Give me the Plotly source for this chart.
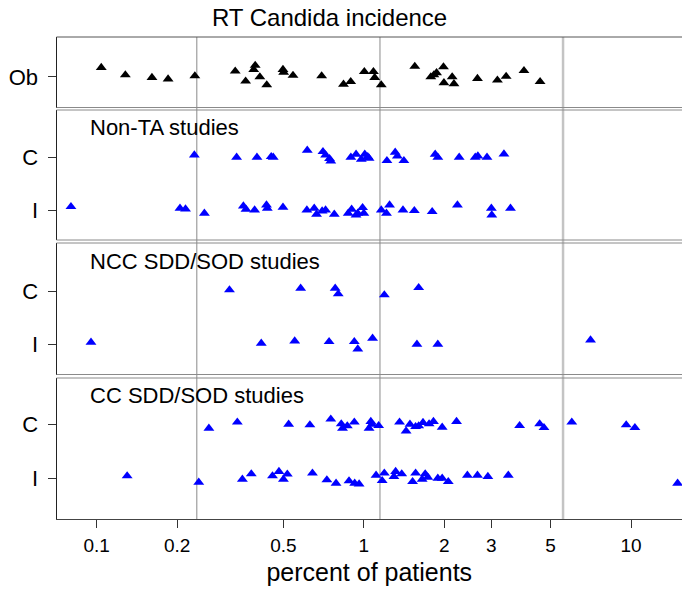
import plotly.graph_objects as go

# ---------------- data (percent of patients) ----------------
rows = ["C", "I"]
panel_titles = ["Non-TA studies", "NCC SDD/SOD studies", "CC SDD/SOD studies"]
tick_vals = [0.1, 0.2, 0.5, 1, 2, 3, 5, 10]
tick_text = ["0.1", "0.2", "0.5", "1", "2", "3", "5", "10"]
ref_lines = [0.237, 1.149, 5.567]

ob_vals = [0.104, 0.128, 0.161, 0.185, 0.233, 0.330, 0.361, 0.387, 0.392, 0.408, 0.433, 0.498,
           0.501, 0.543, 0.695, 0.839, 0.893, 1.004, 1.086, 1.098, 1.162, 1.551, 1.781, 1.829,
           1.871, 1.986, 1.994, 2.141, 2.174, 2.662, 3.162, 3.409, 3.975, 4.567]
ob_jit = [0.18, 0.04, -0.01, -0.04, 0.02, 0.11, -0.08, 0.14, 0.22, 0.0, -0.15, 0.14, 0.09, 0.03,
          0.02, -0.14, -0.09, 0.10, 0.10, -0.01, -0.15, 0.20, 0.0, 0.04, 0.08, 0.19, -0.11, 0.0,
          -0.13, -0.03, -0.06, 0.01, 0.12, -0.09]

nonta_c = [0.232, 0.334, 0.398, 0.450, 0.458, 0.614, 0.703, 0.719, 0.744, 0.752, 0.894, 0.935,
           0.978, 1.008, 1.034, 1.046, 1.220, 1.310, 1.335, 1.412, 1.849, 1.892, 2.274, 2.612,
           2.672, 2.890, 3.345]
nonta_c_jit = [0.044, 0, 0, 0.013, 0, 0.133, 0.108, 0.044, -0.025, -0.07, 0, 0.057, -0.038, 0.057,
               0.013, -0.019, -0.063, 0.095, 0.025, -0.063, 0.057, 0, 0, 0, 0.025, 0, 0.063]
nonta_i = [0.0801, 0.205, 0.215, 0.253, 0.354, 0.362, 0.390, 0.432, 0.435, 0.498, 0.612, 0.652,
           0.665, 0.698, 0.719, 0.775, 0.874, 0.900, 0.935, 0.949, 0.989, 1.000, 1.162, 1.215,
           1.248, 1.401, 1.545, 1.802, 2.240, 3.001, 3.012, 3.539]
nonta_i_jit = [0.063, 0.032, 0.019, -0.063, 0.076, 0.013, 0, 0.095, 0.032, 0.051, 0, 0.032, -0.082,
               -0.019, 0, -0.082, -0.063, 0.013, -0.095, -0.063, 0.044, -0.063, 0, -0.063, 0.095,
               0, -0.013, -0.032, 0.095, 0.032, -0.095, 0.032]

ncc_c = [0.314, 0.580, 0.781, 0.802, 1.193, 1.604]
ncc_c_jit = [0.032, 0.063, 0.063, -0.044, -0.063, 0.076]
ncc_i = [0.0952, 0.413, 0.551, 0.741, 0.921, 0.949, 1.078, 1.580, 1.892, 7.055]
ncc_i_jit = [0.038, 0.019, 0.063, 0.051, 0.051, -0.089, 0.114, 0, 0, 0.082]

cc_c = [0.263, 0.336, 0.523, 0.628, 0.752, 0.823, 0.832, 0.867, 0.921, 1.046, 1.062, 1.074,
        1.136, 1.360, 1.439, 1.488, 1.562, 1.604, 1.665, 1.755, 1.822, 1.964, 2.223, 3.829,
        4.550, 4.724, 6.003, 9.596, 10.34]
cc_c_jit = [-0.075, 0.038, 0, -0.013, 0.094, 0.006, -0.075, -0.031, 0.038, -0.075, 0.05, 0,
            -0.025, 0.038, -0.125, 0, -0.044, -0.031, 0.031, 0.006, 0.05, -0.056, 0.05, -0.025,
            0.006, -0.063, 0.038, -0.013, -0.063]
cc_i = [0.130, 0.241, 0.351, 0.379, 0.455, 0.481, 0.500, 0.517, 0.642, 0.727, 0.787, 0.880,
        0.924, 0.960, 1.111, 1.171, 1.193, 1.296, 1.315, 1.386, 1.522, 1.562, 1.653, 1.697,
        1.735, 1.892, 1.964, 2.070, 2.441, 2.662, 2.912, 3.473, 14.94]
cc_i_jit = [0.044, -0.075, -0.019, 0.081, 0.044, 0.125, -0.019, 0.075, 0.094, -0.031, -0.094,
            -0.05, -0.094, -0.106, 0.056, -0.044, 0.094, 0.031, 0.125, 0.081, -0.063, 0.094,
            -0.019, 0.081, 0.019, 0, 0, -0.063, 0.056, 0.056, 0.031, 0.056, -0.094]

# ---------------- layout geometry ----------------
H = 597.0
W = 682.0
FONT = "Liberation Sans, Arial, sans-serif"


def dom(top_px, bot_px):
    return [1 - bot_px / H, 1 - top_px / H]


doms = [dom(37, 107.5), dom(110, 240), dom(243, 374.5), dom(378, 519)]
yranges = [[-0.579, 0.759], [-0.569, 1.898], [-0.573, 1.924], [-0.754, 1.857]]
x_dom = [56.5 / W, 1.0]

fig = go.Figure()

BLUE = "#0000FF"
mk = dict(symbol="triangle-up", size=9.5, line=dict(width=0))


def add(vals, jit, base, yax, color):
    fig.add_trace(go.Scatter(
        x=vals, y=[base + j for j in jit], mode="markers",
        marker=dict(color=color, **mk), xaxis="x", yaxis=yax,
        showlegend=False, hoverinfo="x"))


add(ob_vals, ob_jit, 0, "y", "black")
add(nonta_c, nonta_c_jit, 1, "y2", BLUE)
add(nonta_i, nonta_i_jit, 0, "y2", BLUE)
add(ncc_c, ncc_c_jit, 1, "y3", BLUE)
add(ncc_i, ncc_i_jit, 0, "y3", BLUE)
add(cc_c, cc_c_jit, 1, "y4", BLUE)
add(cc_i, cc_i_jit, 0, "y4", BLUE)

yaxis_common = dict(
    anchor="x", showgrid=False, zeroline=False, showline=True, linecolor="#222",
    linewidth=1, ticks="outside", ticklen=8, tickcolor="#333", tickwidth=1,
    tickfont=dict(size=22, color="black", family=FONT), automargin=False,
    ticklabelstandoff=5, fixedrange=True)

layout = dict(
    width=682, height=597, margin=dict(l=0, r=0, t=0, b=0),
    paper_bgcolor="white", plot_bgcolor="white",
    font=dict(family=FONT, color="black"),
    title=dict(text="RT Candida incidence", x=329.6 / W, xanchor="center",
               y=1 - 18 / H, yanchor="middle", xref="paper", yref="paper",
               font=dict(size=24, color="black", family=FONT)),
    xaxis=dict(
        type="log", domain=x_dom, anchor="y4",
        range=[-1.1505, 1.1909], tickvals=tick_vals, ticktext=tick_text,
        ticks="outside", ticklen=8, tickcolor="#333", showgrid=False, zeroline=False,
        showline=True, linecolor="#444", linewidth=1,
        tickfont=dict(size=19, color="black", family=FONT), automargin=False,
        ticklabelstandoff=1,
        title=dict(text="percent of patients", font=dict(size=25, color="black", family=FONT),
                   standoff=8),
        fixedrange=True),
)
layout["yaxis"] = dict(domain=doms[0], range=yranges[0], tickvals=[0], ticktext=["Ob"], **yaxis_common)
for k in range(3):
    layout["yaxis%d" % (k + 2)] = dict(domain=doms[k + 1], range=yranges[k + 1],
                                       tickvals=[1, 0], ticktext=rows, **yaxis_common)
fig.update_layout(**layout)

shapes = []
# vertical reference lines across all panels
for i, v in enumerate(ref_lines):
    shapes.append(dict(type="line", xref="x", yref="paper", x0=v, x1=v,
                       y0=doms[3][0], y1=doms[0][1], layer="below",
                       line=dict(color="#c4c4c4" if i == 2 else "#8a8a8a",
                                 width=2.5 if i == 2 else 1)))
# panel frames (top & bottom edges)
for i, d in enumerate(doms):
    top_col = "#555" if i == 0 else "#8a8a8a"
    bot_col = "#444" if i == 3 else "#8a8a8a"
    shapes.append(dict(type="line", xref="paper", yref="paper", x0=x_dom[0], x1=1,
                       y0=d[1], y1=d[1], line=dict(color=top_col, width=1)))
    if i < 3:
        shapes.append(dict(type="line", xref="paper", yref="paper", x0=x_dom[0], x1=1,
                           y0=d[0], y1=d[0], line=dict(color=bot_col, width=1)))
fig.update_layout(shapes=shapes)

# panel labels
label_y = [127.5, 261.7, 395]
for t, py in zip(panel_titles, label_y):
    fig.add_annotation(text=t, xref="paper", yref="paper", x=88 / W, y=1 - py / H,
                       xanchor="left", yanchor="middle", showarrow=False,
                       font=dict(size=22, color="black", family=FONT))

fig.write_html("out.html")
